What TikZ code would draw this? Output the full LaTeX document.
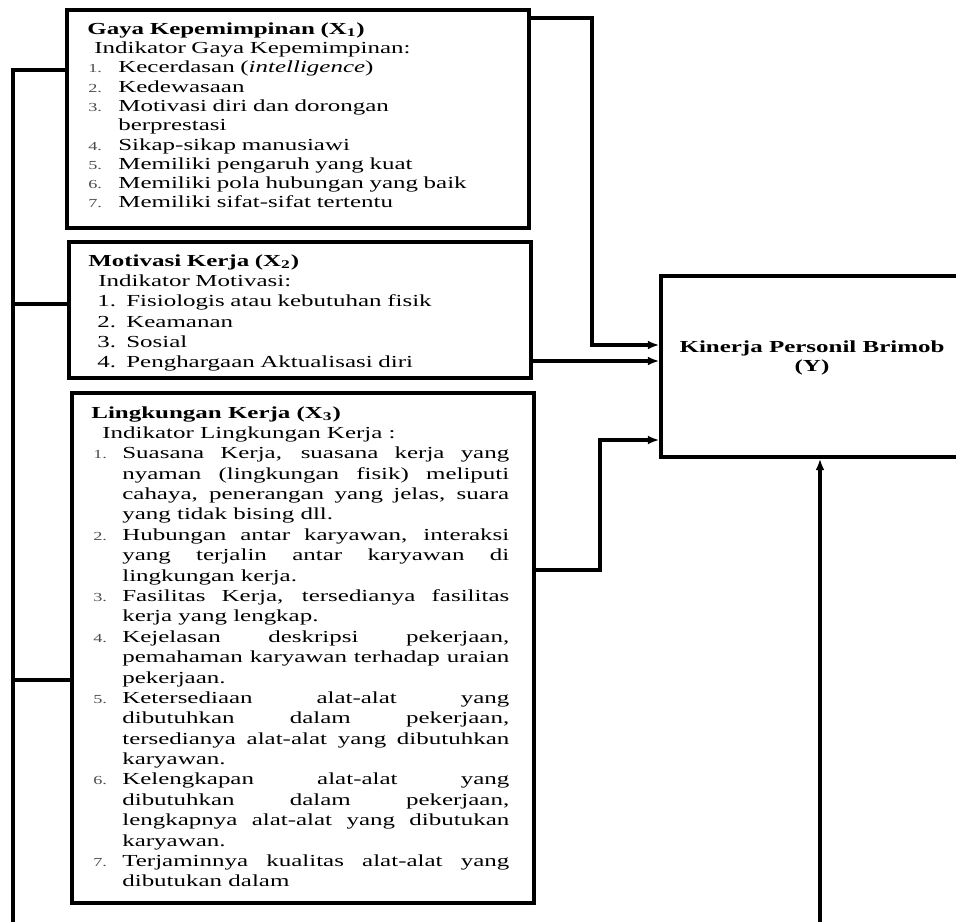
\documentclass[tikz,border=0pt]{standalone}
\usepackage{fontspec}
\setmainfont{Liberation Serif}[FakeStretch=1.48]
\usetikzlibrary{arrows.meta,fit}

\newlength{\butirgap}
\newlength{\butirhang}
\newcommand{\butir}[2]{\par\noindent\hangindent=\butirhang\hangafter=1%
  \hspace*{\butirgap}\makebox[\dimexpr\butirhang-\butirgap\relax][l]{#1}#2}
\newcommand{\nomor}[1]{{\fontsize{7}{8}\selectfont\color{black!70}#1}}

\begin{document}
\begin{tikzpicture}[x=0.02cm, y=-0.02cm,
    kotak/.style={draw, line width=2.2pt, inner sep=0pt},
    isi/.style={anchor=north west, inner sep=0pt, align=left,
      font=\fontsize{9.6}{11.6}\selectfont},
    garis/.style={line width=1.9pt},
    panah/.style={line width=1.9pt, -{Latex[length=6.5pt,width=5pt]}}]
    \useasboundingbox (0,0) rectangle (956,922);

    % kotak variabel
    \node[kotak, fit={(67,10) (529,228)}] (gaya) {};
    \node[kotak, fit={(69,242) (531,378)}] (motiv) {};
    \node[kotak, fit={(72,393) (534,903)}] (lingk) {};
    \node[kotak, line width=1.9pt, fit={(661,276) (962,457)}] (kinerja) {};

    \node[isi, text width=8.4cm, font=\fontsize{9.6}{11.0}\selectfont] (gayatxt) at (87,22) {%
        \setlength{\butirgap}{0.02cm}\setlength{\butirhang}{0.62cm}%
        \textbf{Gaya Kepemimpinan (X\textsubscript{1})}\\
        \hspace*{0.14cm}Indikator Gaya Kepemimpinan:
        \butir{\nomor{1.}}{Kecerdasan (\textit{intelligence})}
        \butir{\nomor{2.}}{Kedewasaan}
        \butir{\nomor{3.}}{Motivasi diri dan dorongan\newline berprestasi}
        \butir{\nomor{4.}}{Sikap-sikap manusiawi}
        \butir{\nomor{5.}}{Memiliki pengaruh yang kuat}
        \butir{\nomor{6.}}{Memiliki pola hubungan yang baik}
        \butir{\nomor{7.}}{Memiliki sifat-sifat tertentu}\par};

    \node[isi, text width=8.4cm] (motivtxt) at (88,254) {%
        \setlength{\butirgap}{0.18cm}\setlength{\butirhang}{0.76cm}%
        \textbf{Motivasi Kerja (X\textsubscript{2})}\\
        \hspace*{0.2cm}Indikator Motivasi:
        \butir{1.}{Fisiologis atau kebutuhan fisik}
        \butir{2.}{Keamanan}
        \butir{3.}{Sosial}
        \butir{4.}{Penghargaan Aktualisasi diri}\par};

    \node[isi, text width=8.36cm, align=justify] (lingktxt) at (91,406) {%
        \hyphenpenalty=10000\exhyphenpenalty=10000\tolerance=10000\hbadness=10000
        \setlength{\butirgap}{0.04cm}\setlength{\butirhang}{0.62cm}%
        \textbf{Lingkungan Kerja (X\textsubscript{3})}\par
        \noindent\hspace*{0.22cm}Indikator Lingkungan Kerja :
        \butir{\nomor{1.}}{Suasana Kerja, suasana kerja yang\linebreak
            nyaman (lingkungan fisik) meliputi\linebreak
            cahaya, penerangan yang jelas, suara\linebreak
            yang tidak bising dll.}
        \butir{\nomor{2.}}{Hubungan antar karyawan, interaksi\linebreak
            yang terjalin antar karyawan di\linebreak
            lingkungan kerja.}
        \butir{\nomor{3.}}{Fasilitas Kerja, tersedianya fasilitas\linebreak
            kerja yang lengkap.}
        \butir{\nomor{4.}}{Kejelasan deskripsi pekerjaan,\linebreak
            pemahaman karyawan terhadap uraian\linebreak
            pekerjaan.}
        \butir{\nomor{5.}}{Ketersediaan alat-alat yang\linebreak
            dibutuhkan dalam pekerjaan,\linebreak
            tersedianya alat-alat yang dibutuhkan\linebreak
            karyawan.}
        \butir{\nomor{6.}}{Kelengkapan alat-alat yang\linebreak
            dibutuhkan dalam pekerjaan,\linebreak
            lengkapnya alat-alat yang dibutukan\linebreak
            karyawan.}
        \butir{\nomor{7.}}{Terjaminnya kualitas alat-alat yang\linebreak
            dibutukan dalam}\par};

    \node[font=\fontsize{9.6}{11}\selectfont\bfseries, align=center] (kinerjatxt)
        at (812,358) {Kinerja Personil Brimob\\(Y)};

    % garis kiri
    \coordinate (bustop) at (13,70);
    \coordinate (busbot) at (13,922);
    \coordinate (bus2) at (13,304);
    \coordinate (bus3) at (13,680);
    \draw[garis] (busbot) -- (bustop) -- (bustop -| gaya.west);
    \draw[garis] (bus2) -- (bus2 -| motiv.west);
    \draw[garis] (bus3) -- (bus3 -| lingk.west);

    % panah ke Y
    \coordinate (belok1) at (592,18);
    \coordinate (masuk1) at (592,345);
    \draw[panah] (belok1 -| gaya.east) -- (belok1) -- (masuk1) -- (masuk1 -| kinerja.west);
    \coordinate (masuk2) at (600,361);
    \draw[panah] (masuk2 -| motiv.east) -- (masuk2 -| kinerja.west);
    \coordinate (belok3) at (600,570);
    \coordinate (masuk3) at (600,440);
    \draw[panah] (belok3 -| lingk.east) -- (belok3) -- (masuk3) -- (masuk3 -| kinerja.west);
    \coordinate (umpan) at (820,922);
    \draw[panah] (umpan) -- (umpan |- kinerja.south);
\end{tikzpicture}
\end{document}
